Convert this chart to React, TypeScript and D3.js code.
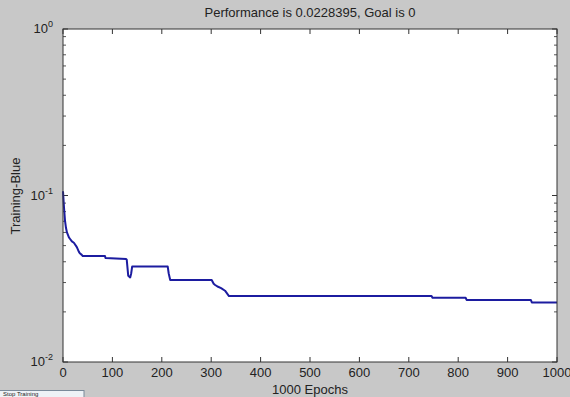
import React from "react";
import * as d3 from "d3";

const epochs = [0, 2, 4, 6, 8, 10, 12, 14, 18, 22, 26, 28, 32, 34, 38, 40, 85, 86, 128, 129, 132, 136, 138, 140, 142, 212, 214, 217, 301, 305, 308, 314, 320, 328, 336, 746, 748, 815, 817, 947, 949, 1000];
const perf = [0.106, 0.085, 0.071, 0.064, 0.06, 0.058, 0.056, 0.055, 0.053, 0.052, 0.05, 0.049, 0.046, 0.045, 0.044, 0.0433, 0.0433, 0.0422, 0.0415, 0.0412, 0.033, 0.0322, 0.034, 0.0374, 0.0374, 0.0374, 0.034, 0.0311, 0.0311, 0.0295, 0.029, 0.0283, 0.0278, 0.0268, 0.0249, 0.0249, 0.0243, 0.0243, 0.0236, 0.0236, 0.0228, 0.0228];
const xTicks = [0, 100, 200, 300, 400, 500, 600, 700, 800, 900, 1000];
const yMajor = [1, 0.1, 0.01];
const yExp = ["0", "-1", "-2"];
const titleText = "Performance is 0.0228395, Goal is 0";
const xLabel = "1000 Epochs";
const yLabel = "Training-Blue";
const buttonLabel = "Stop Training";

const W = 570, H = 397;
const L = 63, R = 557, T = 29, B = 362;
const FONT = "'Liberation Sans', Arial, sans-serif";

export default function App() {
  const x = d3.scaleLinear().domain([0, 1000]).range([L, R]);
  const y = d3.scaleLog().domain([0.01, 1]).range([B, T]);
  const pts: [number, number][] = epochs.map((e, i) => [e, perf[i]]);
  const line = d3.line<[number, number]>().x(d => x(d[0])).y(d => y(d[1]));
  const minor: number[] = [];
  [0.01, 0.1].forEach(b => { for (let k = 2; k <= 9; k++) minor.push(b * k); });

  return (
    <div style={{ position: "fixed", left: 0, top: 0 }}>
      <svg width={W} height={H} style={{ display: "block" }}>
        <rect x={0} y={0} width={W} height={H} fill="#c8c8c8" />
        <rect x={L} y={T} width={R - L} height={B - T} fill="#ffffff" />
        {xTicks.map(t => (
          <g key={"xt" + t}>
            <line x1={x(t)} x2={x(t)} y1={B} y2={B - 5} stroke="#333" strokeWidth={1} />
            <line x1={x(t)} x2={x(t)} y1={T} y2={T + 5} stroke="#333" strokeWidth={1} />
            <text x={x(t)} y={B + 15} fontSize={13} fontFamily={FONT} textAnchor="middle" fill="#222">{t}</text>
          </g>
        ))}
        {yMajor.map((v, i) => (
          <g key={"ym" + i}>
            <line x1={L} x2={L + 5} y1={y(v)} y2={y(v)} stroke="#333" />
            <line x1={R} x2={R - 5} y1={y(v)} y2={y(v)} stroke="#333" />
            <text x={L - 10} y={y(v) + 4} fontSize={13} fontFamily={FONT} textAnchor="end" fill="#222">
              10<tspan dy={-6} fontSize={9}>{yExp[i]}</tspan>
            </text>
          </g>
        ))}
        {minor.map((v, i) => (
          <g key={"mn" + i}>
            <line x1={L} x2={L + 3} y1={y(v)} y2={y(v)} stroke="#555" />
            <line x1={R} x2={R - 3} y1={y(v)} y2={y(v)} stroke="#555" />
          </g>
        ))}
        <path d={line(pts) || ""} fill="none" stroke="#1c1ca0" strokeWidth={2} strokeLinejoin="round" />
        <rect x={L} y={T} width={R - L} height={B - T} fill="none" stroke="#333" strokeWidth={1} />
        <text x={310} y={17} fontSize={13} fontFamily={FONT} textAnchor="middle" fill="#222">{titleText}</text>
        <text x={310} y={394} fontSize={13} fontFamily={FONT} textAnchor="middle" fill="#222">{xLabel}</text>
        <text transform={`translate(20,196) rotate(-90)`} fontSize={13} fontFamily={FONT} textAnchor="middle" fill="#222">{yLabel}</text>
        <rect x={-2} y={390.5} width={86} height={8} fill="#eef2f6" stroke="#7a8a9a" />
        <text x={3} y={396} fontSize={6} fontFamily={FONT} fill="#222">{buttonLabel}</text>
      </svg>
    </div>
  );
}
